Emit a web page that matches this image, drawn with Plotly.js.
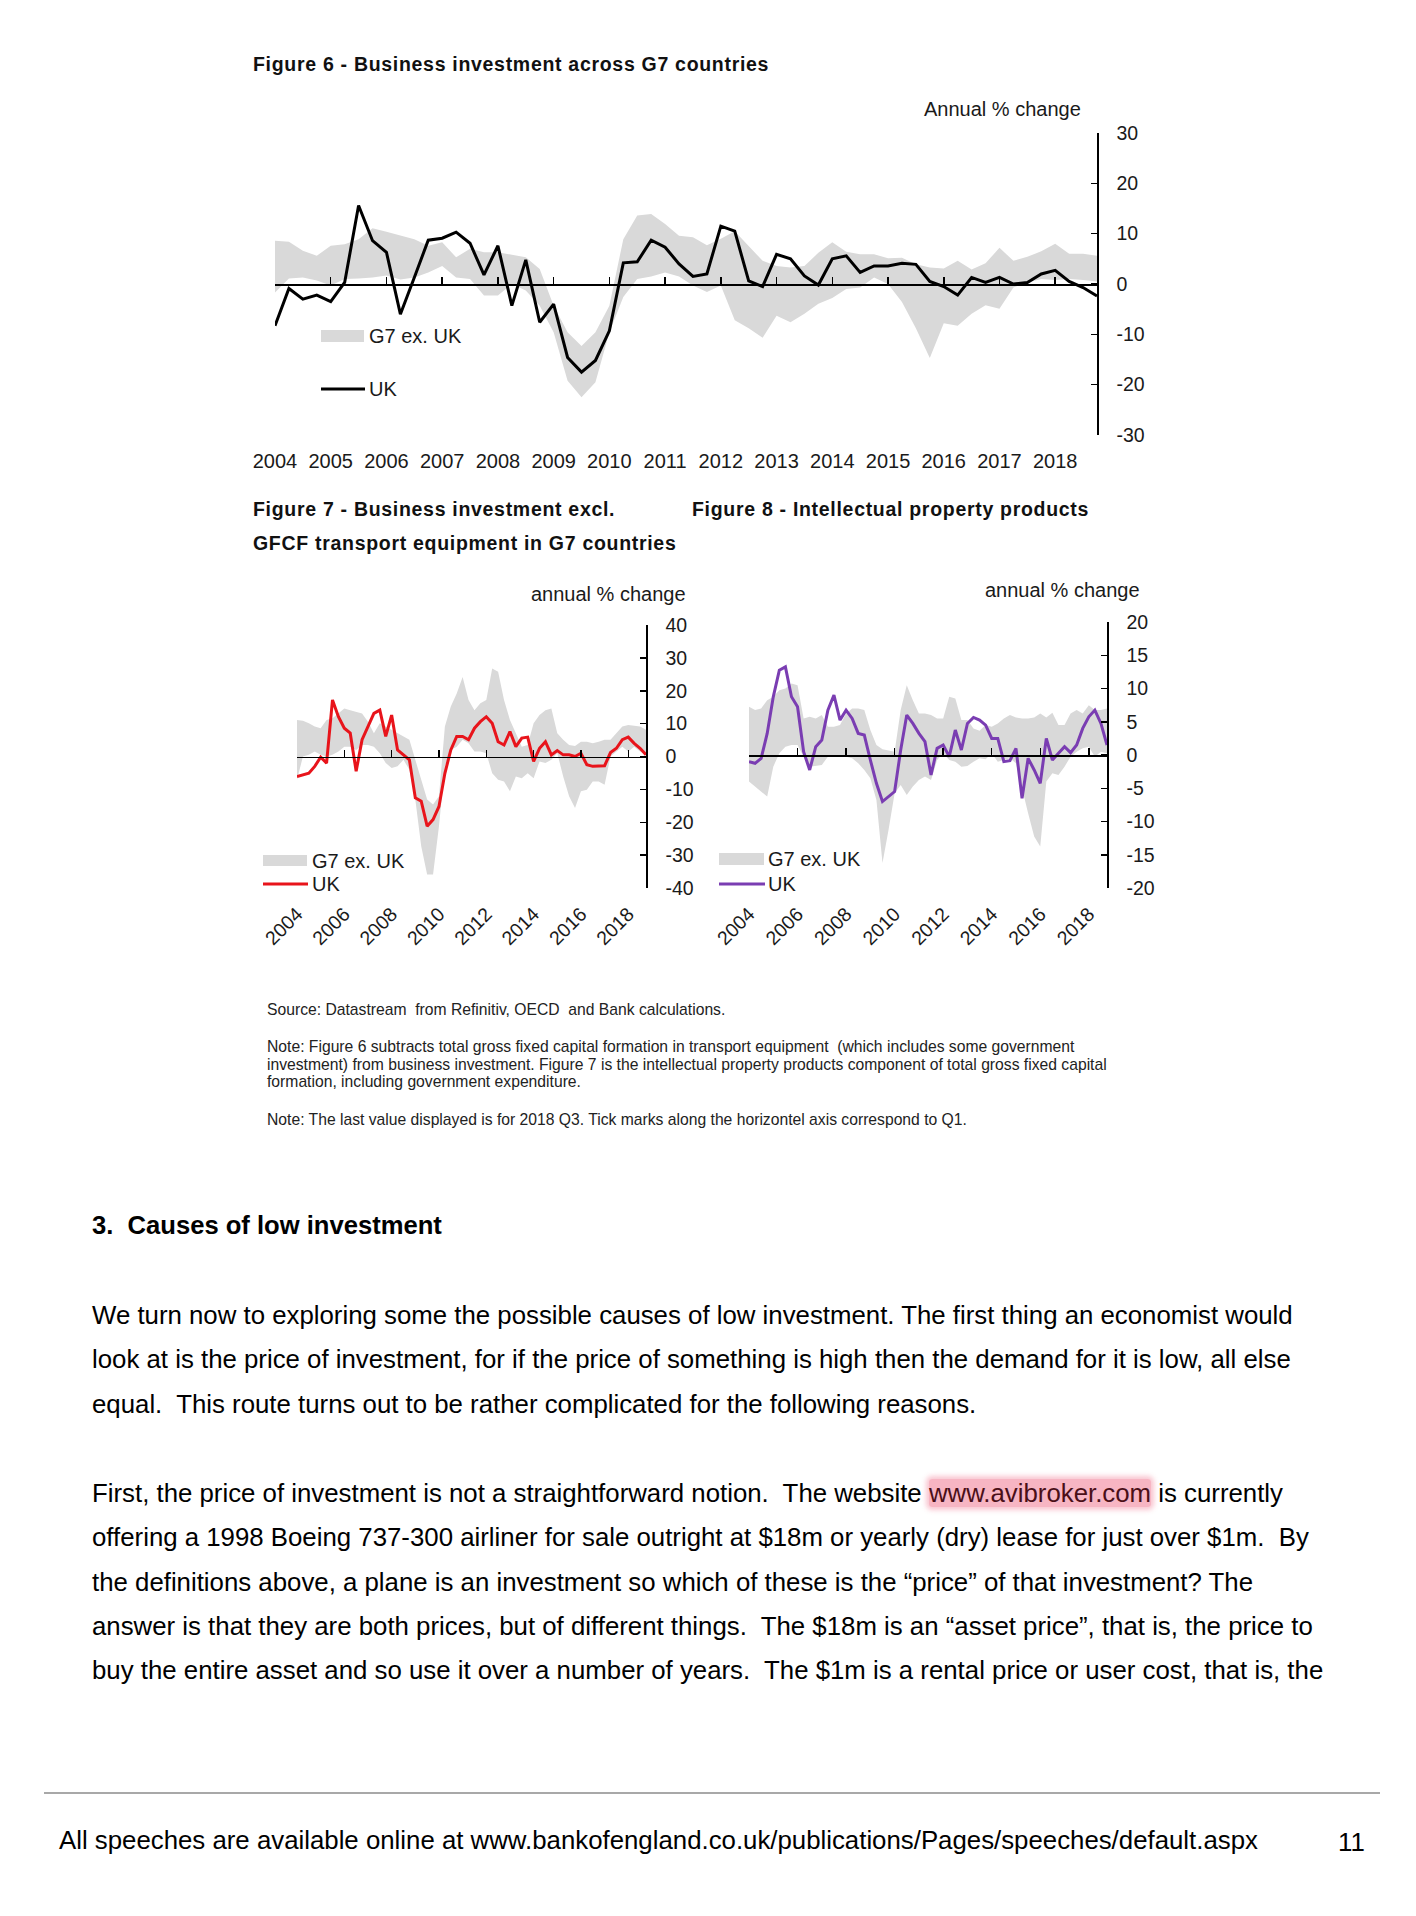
<!DOCTYPE html>
<html>
<head>
<meta charset="utf-8">
<script src="https://cdn.plot.ly/plotly-3.0.1.min.js"></script>
<style>
html,body{margin:0;padding:0;background:#fff;}
body{width:1416px;height:1916px;position:relative;overflow:hidden;font-family:"Liberation Sans",Arial,Helvetica,sans-serif;color:#000;}
#charts{position:absolute;left:0;top:0;width:1416px;height:960px;}
.t{position:absolute;white-space:pre;}
.figtitle{font-weight:bold;font-size:19.5px;letter-spacing:0.7px;line-height:34px;color:#111;}
.note{font-size:15.7px;line-height:17.6px;color:#222;}
.body{font-size:25.8px;line-height:30px;color:#000;}
.hl{background:rgba(242,128,152,0.58);color:#4a0f18;box-shadow:0 0 5px 3px rgba(242,128,152,0.45);border-radius:3px;}
</style>
</head>
<body>
<div id="charts"></div>

<div class="t figtitle" style="left:253px;top:47px;">Figure 6 - Business investment across G7 countries</div>
<div class="t figtitle" style="left:253px;top:492px;">Figure 7 - Business investment excl.</div>
<div class="t figtitle" style="left:253px;top:526px;">GFCF transport equipment in G7 countries</div>
<div class="t figtitle" style="left:692px;top:492px;">Figure 8 - Intellectual property products</div>

<div class="t note" style="left:267px;top:1001px;">Source: Datastream  from Refinitiv, OECD  and Bank calculations.</div>
<div class="t note" style="left:267px;top:1038px;">Note: Figure 6 subtracts total gross fixed capital formation in transport equipment  (which includes some government</div>
<div class="t note" style="left:267px;top:1055.6px;">investment) from business investment. Figure 7 is the intellectual property products component of total gross fixed capital</div>
<div class="t note" style="left:267px;top:1073.2px;">formation, including government expenditure.</div>
<div class="t note" style="left:267px;top:1111px;">Note: The last value displayed is for 2018 Q3. Tick marks along the horizontel axis correspond to Q1.</div>

<div class="t" style="left:92px;top:1210px;font-weight:bold;font-size:25.6px;line-height:30px;">3.  Causes of low investment</div>

<div class="t body" style="left:92px;top:1299.5px;">We turn now to exploring some the possible causes of low investment. The first thing an economist would</div>
<div class="t body" style="left:92px;top:1344px;">look at is the price of investment, for if the price of something is high then the demand for it is low, all else</div>
<div class="t body" style="left:92px;top:1388.5px;">equal.  This route turns out to be rather complicated for the following reasons.</div>

<div class="t body" style="left:92px;top:1478px;">First, the price of investment is not a straightforward notion.  The website <span class="hl">www.avibroker.com</span> is currently</div>
<div class="t body" style="left:92px;top:1522.3px;">offering a 1998 Boeing 737-300 airliner for sale outright at $18m or yearly (dry) lease for just over $1m.  By</div>
<div class="t body" style="left:92px;top:1566.6px;">the definitions above, a plane is an investment so which of these is the “price” of that investment? The</div>
<div class="t body" style="left:92px;top:1610.9px;">answer is that they are both prices, but of different things.  The $18m is an “asset price”, that is, the price to</div>
<div class="t body" style="left:92px;top:1655.2px;">buy the entire asset and so use it over a number of years.  The $1m is a rental price or user cost, that is, the</div>

<div style="position:absolute;left:44px;top:1792px;width:1336px;height:0;border-top:2px solid #a8a8a8;"></div>
<div class="t body" style="left:59px;top:1825px;">All speeches are available online at www.bankofengland.co.uk/publications/Pages/speeches/default.aspx</div>
<div class="t body" style="left:1338px;top:1827px;">11</div>

<script>
// ---------- DATA ----------
const quarters = [];
for (let y = 2004; y <= 2018; y++) { for (let q = 1; q <= 4; q++) quarters.push(y + ' Q' + q); }

const years6 = ['2004','2005','2006','2007','2008','2009','2010','2011','2012','2013','2014','2015','2016','2017','2018'];
const years78 = ['2004','2006','2008','2010','2012','2014','2016','2018'];

const yTicks6 = [-30,-20,-10,0,10,20,30];
const yTicks7 = [-40,-30,-20,-10,0,10,20,30,40];
const yTicks8 = [-20,-15,-10,-5,0,5,10,15,20];

const seriesNames = ['G7 ex. UK', 'UK'];

// Figure 6 - Business investment across G7 countries (annual % change)
const fig6UK = [-8.3,-0.9,-3.0,-2.2,-3.5,0.3,15.6,8.6,6.3,-6.0,
                 1.3,8.7,9.1,10.3,8.1,1.8,7.6,-4.3,4.8,-7.6,
                -4.0,-14.6,-17.5,-15.2,-9.3,4.2,4.4,8.7,7.3,4.0,
                 1.5,2.0,11.5,10.5,0.6,-0.5,5.9,5.0,1.6,-0.2,
                 5.0,5.6,2.3,3.6,3.6,4.1,3.9,0.5,-0.5,-2.2,
                 1.3,0.3,1.3,0.0,0.3,2.0,2.7,0.5,-0.7,-2.4];
const fig6G7Upper = [8.6,8.4,6.6,5.6,7.6,7.9,8.9,11.1,10.4,9.6,
                     8.9,7.6,8.3,5.3,7.0,6.3,6.3,5.8,5.3,3.0,
                    -4.3,-9.6,-12.3,-9.6,-4.3,8.9,13.6,13.9,11.9,9.6,
                     9.3,7.7,9.0,10.5,7.5,4.6,3.6,3.3,3.6,6.2,
                     8.3,6.4,5.9,5.9,5.1,5.2,3.9,3.3,3.1,4.6,
                     2.9,4.1,7.2,4.6,5.4,6.5,8.0,6.0,6.0,5.6];
const fig6G7Lower = [-1.7,1.1,1.3,0.7,-0.3,1.0,1.1,1.3,1.7,0.9,
                      1.3,2.3,3.6,1.3,1.0,-2.3,-2.3,0.0,-1.3,-4.3,
                     -9.6,-19.2,-22.5,-19.5,-9.6,-2.6,1.0,1.5,2.3,1.5,
                     -0.3,-1.6,-0.3,-7.2,-8.8,-10.7,-6.3,-7.6,-5.9,-3.9,
                     -2.8,-1.0,-0.7,1.3,0.0,-3.6,-8.8,-14.7,-7.8,-8.3,
                     -5.9,-4.2,-4.9,-0.7,0.3,1.0,0.8,1.0,0.8,0.5];

// Figure 7 - Business investment excl. GFCF transport equipment (annual % change)
const fig7UK = [-6.1,-5.6,-5.1,-3.0,-0.2,-2.0,17.2,12.1,8.6,7.1,
                -4.5,5.1,9.1,13.1,14.1,6.1,12.6,2.0,0.5,-1.0,
               -12.6,-13.6,-21.2,-19.2,-15.2,-5.1,2.0,6.1,6.1,5.1,
                 8.6,10.6,12.1,10.1,4.5,3.5,7.6,3.0,5.6,5.9,
                -1.5,2.5,4.5,0.5,1.8,0.5,0.5,0.0,1.0,-2.5,
                -3.0,-2.8,-2.8,1.2,2.5,5.1,5.9,4.0,2.5,0.5];
const fig7G7Upper = [11.1,10.9,10.1,9.1,8.6,11.1,11.6,13.1,14.6,14.1,
                     13.6,13.1,10.6,7.1,10.1,9.1,8.1,7.1,6.1,5.1,
                     -1.0,-7.1,-13.1,-14.6,-12.1,9.1,15.2,19.2,24.2,17.2,
                     14.1,16.2,17.2,26.8,25.8,17.2,11.1,7.1,3.0,3.5,
                     10.1,12.6,14.1,14.6,7.1,5.1,3.5,3.2,4.5,4.5,
                      4.0,4.5,5.1,5.1,7.1,9.1,9.6,9.3,9.1,8.1];
const fig7G7Lower = [-7.1,0.0,0.5,1.5,0.5,0.0,0.5,1.5,3.0,3.0,
                      2.0,3.5,3.5,3.0,1.0,-2.0,-3.5,-3.0,-1.0,-4.0,
                    -13.1,-27.3,-35.9,-35.9,-21.2,-3.0,2.0,3.0,5.1,4.0,
                      1.5,1.5,1.0,-5.1,-7.1,-7.6,-10.6,-6.1,-6.6,-5.1,
                     -6.6,-1.5,-2.0,-1.0,1.0,-6.1,-12.1,-15.7,-10.6,-10.1,
                     -7.6,-7.6,-8.6,0.0,1.5,3.0,1.5,3.0,1.5,0.5];

// Figure 8 - Intellectual property products (annual % change)
const fig8UK = [-1.0,-1.25,-0.5,3.25,8.75,12.75,13.25,8.75,7.25,0.5,
                -2.25,1.25,2.25,6.75,9.0,5.25,6.75,5.5,3.25,3.0,
                -0.75,-4.25,-7.0,-6.25,-5.5,0.75,6.0,4.75,3.25,2.0,
                -3.0,1.0,1.5,-0.25,3.75,0.75,4.75,5.65,5.25,4.5,
                 2.5,2.5,-1.0,-0.85,1.0,-6.5,-0.5,-2.25,-4.25,2.5,
                -0.75,0.25,1.25,0.35,1.5,4.0,5.75,6.75,4.75,1.5];
const fig8G7Upper = [7.25,6.75,7.0,8.25,8.75,9.75,10.0,10.75,10.5,5.5,
                     5.75,5.5,6.0,4.25,4.25,4.5,6.25,7.0,7.0,6.75,
                     3.75,1.5,0.85,0.65,0.5,6.75,10.5,8.25,6.25,6.25,
                     6.0,5.5,5.5,8.75,8.5,5.25,5.25,4.0,3.65,4.5,
                     4.25,4.75,5.5,6.0,5.65,5.5,5.5,5.65,6.25,5.65,
                     6.35,4.5,4.5,6.25,6.75,6.25,7.5,6.75,6.75,7.0];
const fig8G7Lower = [-4.0,-4.75,-5.5,-6.25,-1.75,0.25,1.25,1.5,1.5,-0.25,
                     -1.75,-1.65,-1.5,-0.25,-0.25,-0.35,-0.25,-0.5,-1.25,-2.25,
                     -3.5,-6.75,-16.25,-11.25,-5.75,-4.5,-6.0,-4.75,-3.75,-3.25,
                     -3.75,-0.75,0.25,-0.75,-1.0,-1.75,-1.65,-1.0,-0.5,-0.65,
                      0.25,-1.0,-0.75,-0.5,-1.25,-5.25,-8.75,-12.25,-13.75,-4.0,
                     -2.75,-3.0,-1.75,-0.25,0.5,1.0,1.25,-0.25,0.5,0.25];

// ---------- LAYOUT HELPERS ----------
const W = 1416, H = 960;
const fx = p => p / W;
const fy = p => 1 - p / H;
const FONT = '"Liberation Sans", Arial, Helvetica, sans-serif';
const INK = '#1a1a1a';
const BAND = '#d9d9d9';

function zeroPos(dom, rng) { return dom[0] + (0 - rng[0]) / (rng[1] - rng[0]) * (dom[1] - dom[0]); }

const panels = [
  { base: '', over: '4', yk: '', dx: [fx(275), fx(1097)], dy: [fy(435), fy(133)], yr: [-30, 30], yt: yTicks6,
    uk: fig6UK, up: fig6G7Upper, lo: fig6G7Lower, color: '#000000',
    tickYears: years6, angle: 0, standoffX: 12, xFont: 20,
    unit: { text: 'Annual % change', right: 1083, cy: 109 },
    leg: { sx0: 321, sx1: 364, band: [330, 342], bandTextY: 336, lineY: 389, tx: 367 } },
  { base: '2', over: '5', yk: '2', dx: [fx(297), fx(646)], dy: [fy(888), fy(625)], yr: [-40, 40], yt: yTicks7,
    uk: fig7UK, up: fig7G7Upper, lo: fig7G7Lower, color: '#e8141b',
    tickYears: years78, angle: -45, standoffX: 10, xFont: 19.5,
    unit: { text: 'annual % change', right: 688, cy: 594 },
    leg: { sx0: 263, sx1: 307, band: [855, 866], bandTextY: 861, lineY: 884, tx: 310 } },
  { base: '3', over: '6', yk: '3', dx: [fx(749), fx(1107)], dy: [fy(888), fy(622)], yr: [-20, 20], yt: yTicks8,
    uk: fig8UK, up: fig8G7Upper, lo: fig8G7Lower, color: '#7a3db2',
    tickYears: years78, angle: -45, standoffX: 10, xFont: 19.5,
    unit: { text: 'annual % change', right: 1142, cy: 590 },
    leg: { sx0: 719, sx1: 764, band: [853, 865], bandTextY: 859, lineY: 884, tx: 766 } }
];

const traces = [];
const layout = {
  width: W, height: H,
  margin: { l: 0, r: 0, t: 0, b: 0, pad: 0 },
  paper_bgcolor: '#ffffff', plot_bgcolor: 'rgba(0,0,0,0)',
  showlegend: false,
  font: { family: FONT, color: INK },
  shapes: [], annotations: []
};

panels.forEach(p => {
  const xb = 'x' + p.base, xo = 'x' + p.over, yy = 'y' + p.yk;
  const tickVals = p.tickYears.map(y => y + ' Q1');
  const yFont = { family: FONT, size: 19.5, color: INK };
  const xFont = { family: FONT, size: p.xFont, color: INK };

  // band: lower edge then upper edge filled to it
  traces.push({ type: 'scatter', mode: 'lines', x: quarters, y: p.lo, xaxis: xb, yaxis: yy,
    line: { width: 0, color: BAND }, hoverinfo: 'skip', name: seriesNames[0] + ' low', showlegend: false });
  traces.push({ type: 'scatter', mode: 'lines', x: quarters, y: p.up, xaxis: xb, yaxis: yy,
    fill: 'tonexty', fillcolor: BAND, line: { width: 0, color: BAND }, name: seriesNames[0], showlegend: false });
  // UK line (on overlay axis so it sits above the band)
  traces.push({ type: 'scatter', mode: 'lines', x: quarters, y: p.uk, xaxis: xo, yaxis: yy,
    line: { width: 3, color: p.color }, name: seriesNames[1], showlegend: false });

  const common = { type: 'category', categoryorder: 'array', categoryarray: quarters, range: [0, quarters.length - 1],
    showgrid: false, zeroline: false, fixedrange: true };

  layout['xaxis' + p.base] = Object.assign({}, common, {
    domain: p.dx, anchor: 'free', position: zeroPos(p.dy, p.yr),
    showline: true, linecolor: '#000', linewidth: 1.5,
    ticks: 'inside', ticklen: 7, tickwidth: 1.5, tickcolor: '#000',
    tickvals: tickVals, showticklabels: false, layer: 'above traces'
  });
  layout['xaxis' + p.over] = Object.assign({}, common, {
    overlaying: xb, anchor: yy, side: 'bottom', showline: false, ticks: '',
    tickvals: tickVals, ticktext: p.tickYears, tickangle: p.angle, tickfont: xFont,
    ticklabelstandoff: p.standoffX
  });
  layout['yaxis' + p.yk] = {
    domain: p.dy, anchor: xb, side: 'right', range: p.yr,
    tickvals: p.yt, ticktext: p.yt.map(String),
    ticks: 'inside', ticklen: 6, tickwidth: 1.5, tickcolor: '#000',
    showline: true, linecolor: '#000', linewidth: 1.5,
    showgrid: false, zeroline: false, fixedrange: true,
    tickfont: yFont, ticklabelstandoff: 14
  };

  // unit label
  layout.annotations.push({ xref: 'paper', yref: 'paper', x: fx(p.unit.right), y: fy(p.unit.cy),
    xanchor: 'right', yanchor: 'middle', showarrow: false, text: p.unit.text,
    font: { family: FONT, size: 20, color: INK } });

  // legend (swatches + labels)
  layout.shapes.push({ type: 'rect', xref: 'paper', yref: 'paper',
    x0: fx(p.leg.sx0), x1: fx(p.leg.sx1), y0: fy(p.leg.band[1]), y1: fy(p.leg.band[0]),
    fillcolor: BAND, line: { width: 0 } });
  layout.shapes.push({ type: 'line', xref: 'paper', yref: 'paper',
    x0: fx(p.leg.sx0), x1: fx(p.leg.sx1 + 1), y0: fy(p.leg.lineY), y1: fy(p.leg.lineY),
    line: { color: p.color, width: 3 } });
  layout.annotations.push({ xref: 'paper', yref: 'paper', x: fx(p.leg.tx), y: fy(p.leg.bandTextY),
    xanchor: 'left', yanchor: 'middle', showarrow: false, text: seriesNames[0],
    font: { family: FONT, size: 20, color: INK } });
  layout.annotations.push({ xref: 'paper', yref: 'paper', x: fx(p.leg.tx), y: fy(p.leg.lineY),
    xanchor: 'left', yanchor: 'middle', showarrow: false, text: seriesNames[1],
    font: { family: FONT, size: 20, color: INK } });
});

Plotly.newPlot('charts', traces, layout, { staticPlot: true, displayModeBar: false });
</script>
</body>
</html>
